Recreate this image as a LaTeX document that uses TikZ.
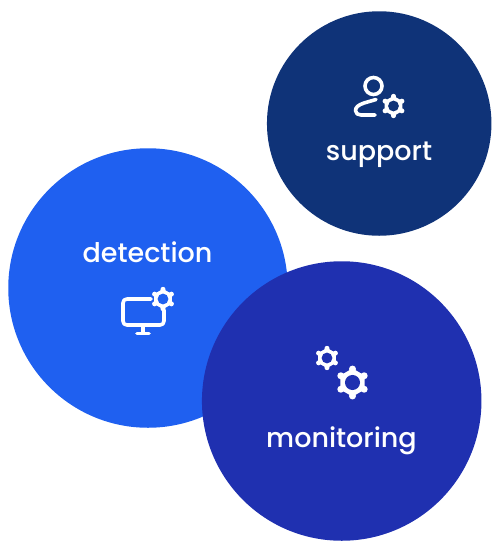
\documentclass[tikz,border=0pt]{standalone}
\usepackage{fontspec}
\setmainfont{Poppins}[UprightFont=* Medium]
\definecolor{cSupport}{HTML}{0F3378}
\definecolor{cDetect}{HTML}{1F60F0}
\definecolor{cMonitor}{HTML}{1F30B0}
\tikzset{
  blob/.style={circle,inner sep=0pt,outer sep=0pt,draw=none},
  lbl/.style={text=white,font=\fontsize{27}{30}\selectfont,inner sep=0pt,anchor=base},
  icon/.style={draw=white,line width=3.6pt,line cap=round,line join=round}
}
\newcommand{\gearat}[3]{%
  \begin{scope}[shift={(#1,#2)},x=#3pt,y=#3pt]
    \foreach \a in {30,90,...,330}
      \fill[white] (\a:0.84) circle (0.22);
    \fill[white] (30:0.88)--(90:0.88)--(150:0.88)--(210:0.88)--(270:0.88)--(330:0.88)--cycle;
    \fill[fill=ringcolor] (0,0) circle (0.47);
  \end{scope}}
\begin{document}
\begin{tikzpicture}[x=1pt,y=-1pt]
\useasboundingbox (0,0) rectangle (500,550);
\node[blob,fill=cSupport,minimum size=224.5pt] (support) at (379.2,123.5) {};
\node[blob,fill=cDetect,minimum size=279.5pt] (detection) at (148,288) {};
\node[blob,fill=cMonitor,minimum size=279.5pt] (monitoring) at (341.7,401) {};
\node[lbl] (tsupport) at (379,160) {support};
\node[lbl] (tdetection) at (147.5,262) {detection};
\node[lbl] (tmonitoring) at (341.5,447) {monitoring};
% support icon
\colorlet{ringcolor}{cSupport}
\draw[icon] (373.5,86) circle (8.5);
\draw[icon] (376,99.5) -- (364,103) .. controls (358,105) and (355.5,107.5) .. (355.5,110.5) .. controls (355.5,113.5) and (358,115) .. (361,115) -- (375,115);
\gearat{393.5}{106}{11.5}
% detection icon
\colorlet{ringcolor}{cDetect}
\draw[icon] (151,299) -- (127,299) .. controls (124.5,299) and (123,300.5) .. (123,303) -- (123,321) .. controls (123,323.5) and (124.5,325) .. (127,325) -- (160,325) .. controls (162.5,325) and (164,323.5) .. (164,321) -- (164,310);
\draw[icon] (143,325) -- (143,333);
\draw[icon] (137,333.5) -- (149,333.5);
\gearat{163}{299}{11.5}
% monitoring icon
\colorlet{ringcolor}{cMonitor}
\gearat{327}{358}{11.5}
\gearat{352.5}{382.5}{16}
\end{tikzpicture}
\end{document}
